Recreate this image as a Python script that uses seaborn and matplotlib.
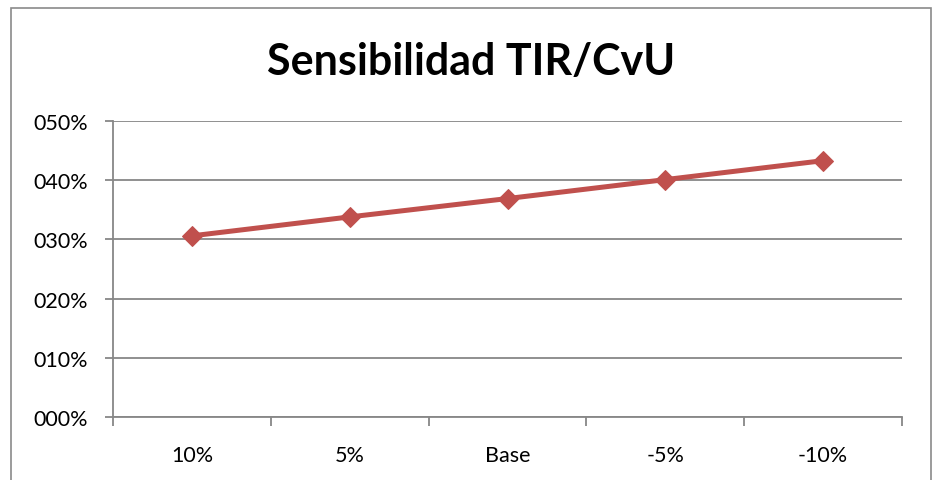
import matplotlib
matplotlib.use("Agg")
import matplotlib.pyplot as plt
import seaborn as sns
from matplotlib.patches import Rectangle
from matplotlib.ticker import FuncFormatter, FixedLocator

categories = ["10%", "5%", "Base", "-5%", "-10%"]
tir_values = [30.6, 33.8, 36.9, 40.1, 43.3]
y_ticks = [0, 10, 20, 30, 40, 50]

sns.set_theme(style="white")
plt.rcParams["font.family"] = ["Lato", "DejaVu Sans"]

W, H = 933, 481
fig = plt.figure(figsize=(W / 100, H / 100), dpi=100)
fig.patch.set_facecolor("white")

# chart border
fig.patches.append(Rectangle((11 / W, -0.05), (931 - 11) / W, 1.05 - 9 / H,
                             transform=fig.transFigure, fill=False,
                             edgecolor="#8a8a8a", linewidth=1.2, zorder=0))

ax = fig.add_axes([113 / W, 1 - 418 / H, (902 - 113) / W, (418 - 122) / H])
ax.set_facecolor("white")

grid_c = "#878787"
line_c = "#C0504D"

sns.lineplot(x=categories, y=tir_values, ax=ax, color=line_c, linewidth=3.6,
             marker="D", markersize=10.5, markeredgecolor=line_c, sort=False)

ax.set_xlim(-0.5, len(categories) - 0.5)
ax.set_ylim(0, 50)
ax.set_yticks(y_ticks)
ax.yaxis.set_major_formatter(FuncFormatter(lambda v, p: f"{v:03.0f}%"))
ax.yaxis.grid(True, color=grid_c, linewidth=1.3)
ax.set_axisbelow(True)

ax.set_xticks(range(len(categories)))
ax.set_xticklabels(categories)
ax.xaxis.set_minor_locator(FixedLocator([i - 0.5 for i in range(len(categories) + 1)]))
ax.tick_params(axis="x", which="major", length=0, pad=20, labelsize=15.5, labelcolor="black")
ax.tick_params(axis="x", which="minor", length=6.5, width=1.3, color=grid_c, direction="out", bottom=True)
ax.tick_params(axis="y", which="major", length=6, width=1.3, color=grid_c, direction="out",
               left=True, pad=12, labelsize=15.5, labelcolor="black")

for s in ["top", "right"]:
    ax.spines[s].set_visible(False)
for s in ["left", "bottom"]:
    ax.spines[s].set_color(grid_c)
    ax.spines[s].set_linewidth(1.3)

ax.set_xlabel("")
ax.set_ylabel("")

fig.text(471 / W, 1 - 62 / H, "Sensibilidad TIR/CvU", ha="center", va="center",
         fontsize=31, fontweight="bold", color="black")

fig.savefig("out.png", dpi=100, facecolor="white")
